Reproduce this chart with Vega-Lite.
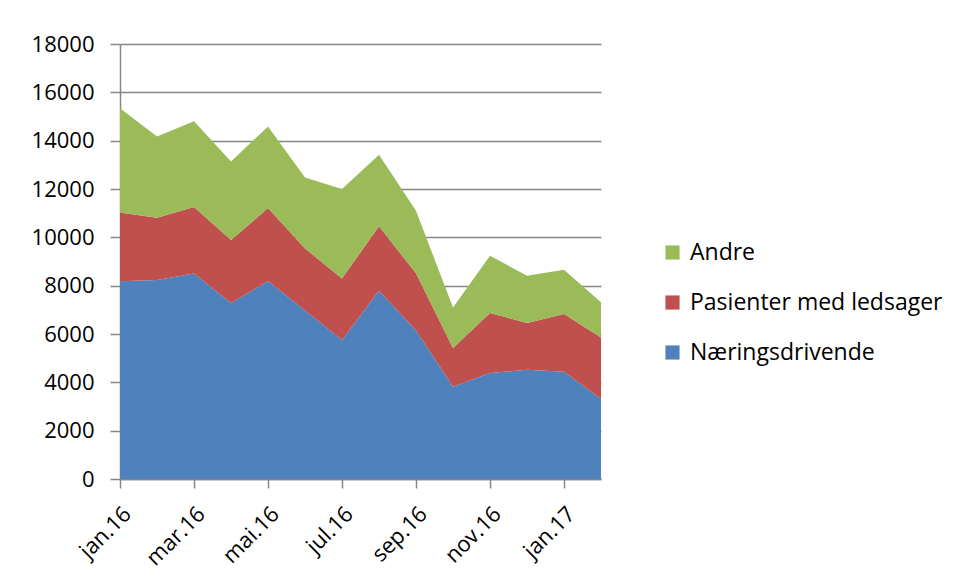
{
  "$schema": "https://vega.github.io/schema/vega-lite/v6.json",
  "autosize": {"type": "none"},
  "padding": {"left": 120, "top": 44, "right": 356, "bottom": 101},
  "width": 481,
  "height": 435,
  "background": "white",
  "config": {
    "font": "Open Sans",
    "view": {"stroke": null},
    "axis": {"labelFont": "Open Sans", "labelColor": "#000000", "domainColor": "#868686", "tickColor": "#868686", "gridColor": "#868686", "domainWidth": 1.5, "tickWidth": 1.5, "gridWidth": 1.5}
  },
  "data": {
    "values": [
      {"m": "jan.16", "s": "Næringsdrivende", "k": 1, "v": 8180},
      {"m": "feb.16", "s": "Næringsdrivende", "k": 1, "v": 8230},
      {"m": "mar.16", "s": "Næringsdrivende", "k": 1, "v": 8500},
      {"m": "apr.16", "s": "Næringsdrivende", "k": 1, "v": 7280},
      {"m": "mai.16", "s": "Næringsdrivende", "k": 1, "v": 8190},
      {"m": "jun.16", "s": "Næringsdrivende", "k": 1, "v": 6970},
      {"m": "jul.16", "s": "Næringsdrivende", "k": 1, "v": 5750},
      {"m": "aug.16", "s": "Næringsdrivende", "k": 1, "v": 7790},
      {"m": "sep.16", "s": "Næringsdrivende", "k": 1, "v": 6140},
      {"m": "okt.16", "s": "Næringsdrivende", "k": 1, "v": 3820},
      {"m": "nov.16", "s": "Næringsdrivende", "k": 1, "v": 4390},
      {"m": "des.16", "s": "Næringsdrivende", "k": 1, "v": 4520},
      {"m": "jan.17", "s": "Næringsdrivende", "k": 1, "v": 4440},
      {"m": "feb.17", "s": "Næringsdrivende", "k": 1, "v": 3310},
      {"m": "jan.16", "s": "Pasienter med ledsager", "k": 2, "v": 2850},
      {"m": "feb.16", "s": "Pasienter med ledsager", "k": 2, "v": 2580},
      {"m": "mar.16", "s": "Pasienter med ledsager", "k": 2, "v": 2760},
      {"m": "apr.16", "s": "Pasienter med ledsager", "k": 2, "v": 2610},
      {"m": "mai.16", "s": "Pasienter med ledsager", "k": 2, "v": 3020},
      {"m": "jun.16", "s": "Pasienter med ledsager", "k": 2, "v": 2570},
      {"m": "jul.16", "s": "Pasienter med ledsager", "k": 2, "v": 2550},
      {"m": "aug.16", "s": "Pasienter med ledsager", "k": 2, "v": 2670},
      {"m": "sep.16", "s": "Pasienter med ledsager", "k": 2, "v": 2370},
      {"m": "okt.16", "s": "Pasienter med ledsager", "k": 2, "v": 1600},
      {"m": "nov.16", "s": "Pasienter med ledsager", "k": 2, "v": 2480},
      {"m": "des.16", "s": "Pasienter med ledsager", "k": 2, "v": 1940},
      {"m": "jan.17", "s": "Pasienter med ledsager", "k": 2, "v": 2390},
      {"m": "feb.17", "s": "Pasienter med ledsager", "k": 2, "v": 2550},
      {"m": "jan.16", "s": "Andre", "k": 3, "v": 4310},
      {"m": "feb.16", "s": "Andre", "k": 3, "v": 3360},
      {"m": "mar.16", "s": "Andre", "k": 3, "v": 3540},
      {"m": "apr.16", "s": "Andre", "k": 3, "v": 3250},
      {"m": "mai.16", "s": "Andre", "k": 3, "v": 3380},
      {"m": "jun.16", "s": "Andre", "k": 3, "v": 2940},
      {"m": "jul.16", "s": "Andre", "k": 3, "v": 3700},
      {"m": "aug.16", "s": "Andre", "k": 3, "v": 2960},
      {"m": "sep.16", "s": "Andre", "k": 3, "v": 2590},
      {"m": "okt.16", "s": "Andre", "k": 3, "v": 1680},
      {"m": "nov.16", "s": "Andre", "k": 3, "v": 2370},
      {"m": "des.16", "s": "Andre", "k": 3, "v": 1950},
      {"m": "jan.17", "s": "Andre", "k": 3, "v": 1830},
      {"m": "feb.17", "s": "Andre", "k": 3, "v": 1450}
    ]
  },
  "mark": {"type": "area", "opacity": 1},
  "encoding": {
    "x": {
      "field": "m",
      "type": "ordinal",
      "sort": null,
      "scale": {"type": "point", "padding": 0},
      "axis": {
        "title": null,
        "values": ["jan.16", "mar.16", "mai.16", "jul.16", "sep.16", "nov.16", "jan.17"],
        "labelAngle": -45,
        "labelAlign": "right",
        "labelBaseline": "top",
        "labelFontSize": 22,
        "tickSize": 9,
        "labelPadding": 15,
        "grid": false
      }
    },
    "y": {
      "field": "v",
      "type": "quantitative",
      "stack": "zero",
      "scale": {"domain": [0, 18000], "nice": false},
      "axis": {
        "title": null,
        "values": [0, 2000, 4000, 6000, 8000, 10000, 12000, 14000, 16000, 18000],
        "format": "d",
        "labelFontSize": 22,
        "tickSize": 10,
        "labelPadding": 16,
        "grid": true
      }
    },
    "color": {
      "field": "s",
      "type": "nominal",
      "scale": {
        "domain": ["Andre", "Pasienter med ledsager", "Næringsdrivende"],
        "range": ["#9BBB59", "#C0504D", "#4F81BD"]
      },
      "legend": {
        "title": null,
        "orient": "none",
        "legendX": 541,
        "legendY": 197,
        "symbolType": "square",
        "symbolSize": 200,
        "symbolStrokeWidth": 0,
        "labelFontSize": 23,
        "labelColor": "#000000",
        "labelFont": "Open Sans",
        "labelLimit": 400,
        "rowPadding": 26,
        "labelOffset": 6
      }
    },
    "order": {"field": "k", "type": "quantitative", "sort": "ascending"}
  }
}
